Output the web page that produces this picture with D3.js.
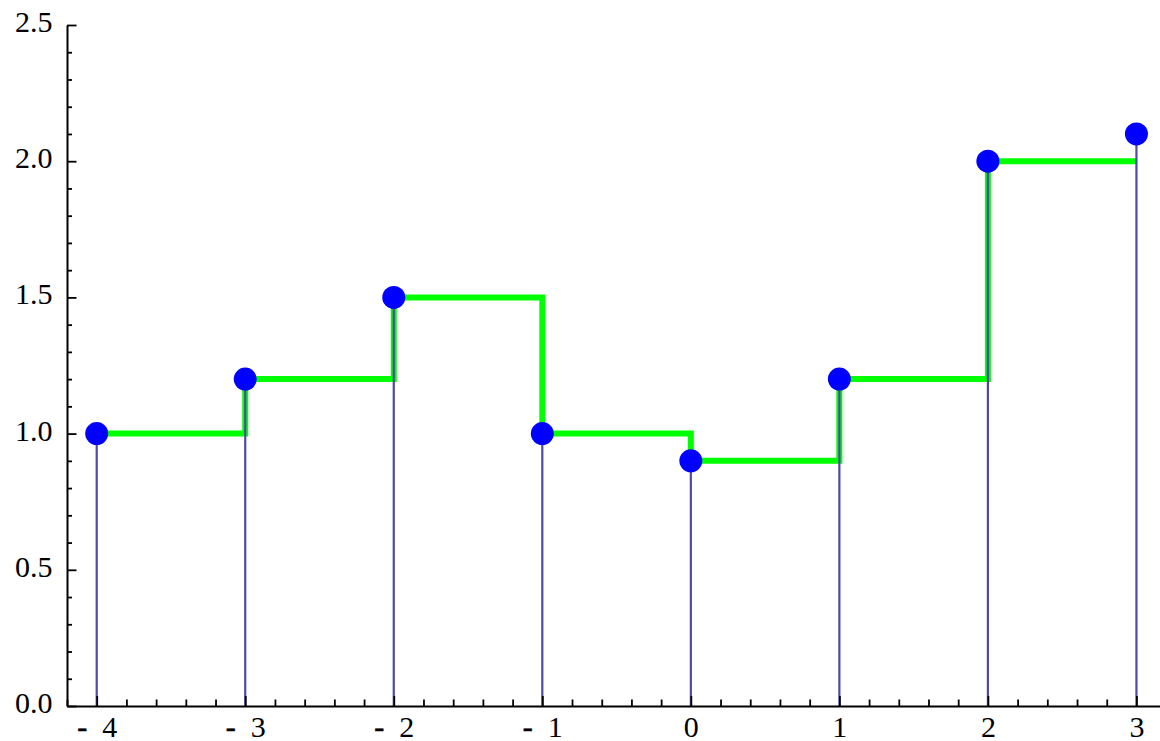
<!DOCTYPE html>
<html>
<head>
<meta charset="utf-8">
<script src="https://cdn.jsdelivr.net/npm/d3@7/dist/d3.min.js"></script>
<style>
  html, body { margin: 0; padding: 0; background: #fff; }
  svg { display: block; }
</style>
</head>
<body>
<svg id="chart" width="1160" height="741"></svg>
<script>
// Sample positions and their values
const xValues = [-4, -3, -2, -1, 0, 1, 2, 3];
const yValues = [1.0, 1.2, 1.5, 1.0, 0.9, 1.2, 2.0, 2.1];

// Axis ticks
const xMajorTicks = [-4, -3, -2, -1, 0, 1, 2, 3];
const yMajorTicks = [0, 0.5, 1.0, 1.5, 2.0, 2.5];
const yTickLabels = ["0.0", "0.5", "1.0", "1.5", "2.0", "2.5"];

const FONT = "'Liberation Serif', 'Times New Roman', Times, serif";

const svg = d3.select("#chart");

const x = d3.scaleLinear().domain([-4.2, 3.16]).range([67, 1160.2]);
const y = d3.scaleLinear().domain([0, 2.5]).range([706, 25]);

// Minor tick positions
const xMinor = d3.range(-21, 17).map(i => +(i * 0.2).toFixed(2))
  .filter(v => Math.abs(v - Math.round(v)) > 1e-6);
const yMinor = d3.range(0, 26).map(i => +(i * 0.1).toFixed(2))
  .filter(v => Math.abs(v * 2 - Math.round(v * 2)) > 1e-6);

// Step line: each value held until the next sample; last level runs to the final sample
const stepData = xValues.map((xv, i) => [xv, i < xValues.length - 1 ? yValues[i] : yValues[i - 1]]);

svg.append("path")
  .datum(stepData)
  .attr("fill", "none")
  .attr("stroke", "#00ff00")
  .attr("stroke-width", 6)
  .attr("d", d3.line().x(d => x(d[0])).y(d => y(d[1])).curve(d3.curveStepAfter));

// Stems
svg.append("g").selectAll("line")
  .data(xValues)
  .join("line")
  .attr("x1", (d) => x(d))
  .attr("x2", (d) => x(d))
  .attr("y1", y(0))
  .attr("y2", (d, i) => y(yValues[i]))
  .attr("stroke", "#4c4ca6")
  .attr("stroke-width", 2.2);

// Axes
const xAxisMinor = d3.axisBottom(x).tickValues(xMinor).tickSize(-6.5).tickFormat("");
const xAxis = d3.axisBottom(x).tickValues(xMajorTicks).tickSize(-10).tickSizeOuter(0);
const yAxisMinor = d3.axisLeft(y).tickValues(yMinor).tickSize(-5).tickFormat("");
const yAxis = d3.axisLeft(y).tickValues(yMajorTicks).tickSize(-9.5).tickSizeOuter(0)
  .tickFormat((d, i) => yTickLabels[i]);

function styleAxis(g) {
  g.attr("font-family", FONT).attr("font-size", 30);
  g.select(".domain").attr("stroke", "#000").attr("stroke-width", 2);
  g.selectAll(".tick line").attr("stroke", "#000").attr("stroke-width", 1.8);
  g.selectAll(".tick text").attr("fill", "#000")
    .attr("font-family", FONT).attr("font-size", 30);
}

const gxm = svg.append("g").attr("transform", `translate(0,${y(0)})`).call(xAxisMinor);
gxm.select(".domain").remove();
gxm.selectAll(".tick line").attr("stroke", "#000").attr("stroke-width", 1.8);

const gx = svg.append("g").attr("transform", `translate(0,${y(0)})`).call(xAxis);
styleAxis(gx);
gx.selectAll(".tick text")
  .attr("y", 31)
  .attr("dy", 0)
  .attr("text-anchor", "middle")
  .text(null)
  .each(function (d) {
    const t = d3.select(this);
    if (d < 0) {
      t.append("tspan").attr("stroke", "#000").attr("stroke-width", 0.6).text("-");
      t.append("tspan").attr("dx", 15).text(String(Math.abs(d)));
    } else {
      t.append("tspan").text(String(d));
    }
  });

const gym = svg.append("g").attr("transform", `translate(${x(-4.2)},0)`).call(yAxisMinor);
gym.select(".domain").remove();
gym.selectAll(".tick line").attr("stroke", "#000").attr("stroke-width", 1.8);

const gy = svg.append("g").attr("transform", `translate(${x(-4.2)},0)`).call(yAxis);
styleAxis(gy);
gy.selectAll(".tick text")
  .attr("x", -14.5)
  .attr("dy", 0)
  .attr("y", 6.5)
  .attr("text-anchor", "end");

// Points
svg.append("g").selectAll("circle")
  .data(xValues)
  .join("circle")
  .attr("cx", (d) => x(d))
  .attr("cy", (d, i) => y(yValues[i]))
  .attr("r", 11.5)
  .attr("fill", "#0000ff");
</script>
</body>
</html>
